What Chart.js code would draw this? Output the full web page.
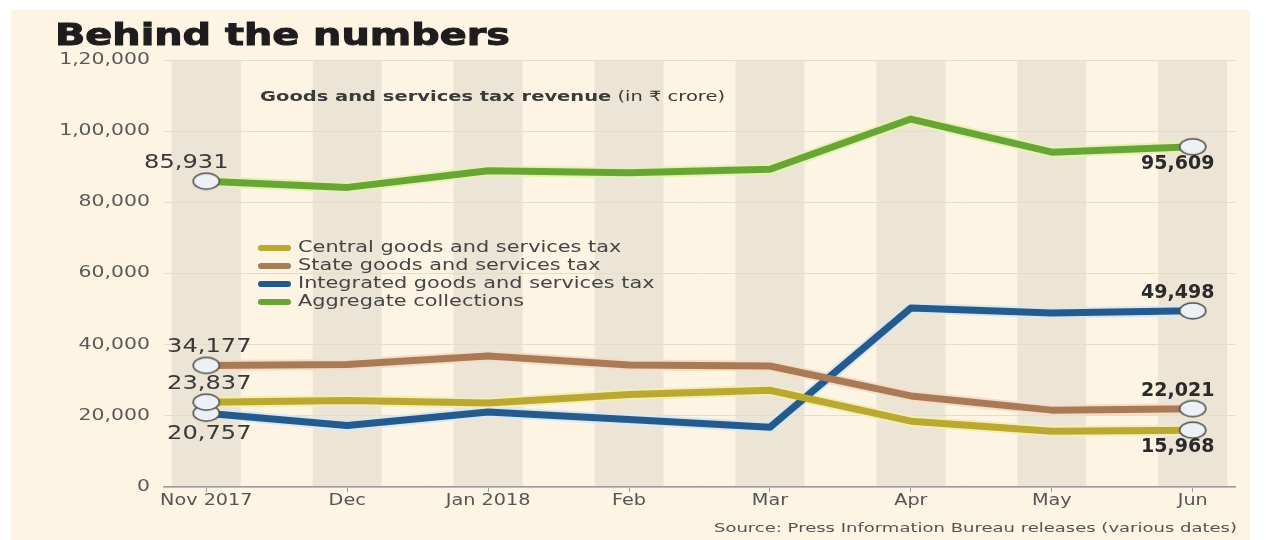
<!DOCTYPE html>
<html>
<head>
<meta charset="utf-8">
<title>Behind the numbers</title>
<script src="https://cdn.jsdelivr.net/npm/chart.js@4.4.0/dist/chart.umd.min.js"></script>
<style>
html, body { margin: 0; padding: 0; background: #fff; }
#wrap { position: relative; width: 1266px; height: 540px; overflow: hidden; }
#paper { position: absolute; left: 11px; top: 10px; width: 1239px; height: 530px; background: #fdf4e3; }
canvas { position: absolute; left: 0; top: 0; }
.txt { position: absolute; white-space: nowrap; font-family: "DejaVu Sans", sans-serif; line-height: 1; transform-origin: left center; }
#title { left: 55px; top: 19px; font-size: 31px; font-weight: bold; color: #1e1c1c; -webkit-text-stroke: 1px #1e1c1c; }
#subtitle { left: 260px; top: 89px; font-size: 14px; color: #3a3a3a; }
#source { left: 714px; top: 521px; font-size: 13px; color: #555; }
</style>
</head>
<body>
<div id="wrap">
  <div id="paper"></div>
  <canvas id="gstChart" width="1266" height="540"></canvas>
  <div class="txt" id="title" data-w="455">Behind the numbers</div>
  <div class="txt" id="subtitle" data-w="465"><b>Goods and services tax revenue</b> (in ₹ crore)</div>
  <div class="txt" id="source" data-w="523">Source: Press Information Bureau releases (various dates)</div>
</div>
<script>
// data (₹ crore)
const months = ['Nov 2017', 'Dec', 'Jan 2018', 'Feb', 'Mar', 'Apr', 'May', 'Jun'];
const centralGST = [23837, 24300, 23600, 26000, 27200, 18500, 15700, 15968];
const stateGST = [34177, 34400, 36800, 34300, 34000, 25600, 21600, 22021];
const integratedGST = [20757, 17300, 21100, 19000, 16800, 50300, 48900, 49498];
const aggregateGST = [85931, 84200, 88900, 88300, 89300, 103400, 94100, 95609];
const yTickValues = [0, 20000, 40000, 60000, 80000, 100000, 120000];
const yTickLabels = ['0', '20,000', '40,000', '60,000', '80,000', '1,00,000', '1,20,000'];

// stretch the html headings to the widths of the original
document.querySelectorAll('.txt').forEach(el => {
    const w = el.getBoundingClientRect().width;
    el.style.transform = 'scaleX(' + (Number(el.dataset.w) / w) + ')';
});

function wideText(ctx, str, x, y, font, color, align, sx) {
    ctx.save();
    ctx.font = font;
    ctx.fillStyle = color;
    ctx.textBaseline = 'middle';
    ctx.textAlign = 'left';
    const w = ctx.measureText(str).width * sx;
    const left = align === 'center' ? x - w / 2 : (align === 'right' ? x - w : x);
    ctx.translate(left, y);
    ctx.scale(sx, 1);
    ctx.fillText(str, 0, 0);
    ctx.restore();
}

// oval end marker
const marker = document.createElement('canvas');
marker.width = 30;
marker.height = 20;
(function () {
    const g = marker.getContext('2d');
    g.beginPath();
    g.ellipse(15, 10, 13, 8, 0, 0, Math.PI * 2);
    g.fillStyle = '#edf0f5';
    g.fill();
    g.lineWidth = 1.6;
    g.strokeStyle = '#4d4d4d';
    g.stroke();
})();

const FONT = '"DejaVu Sans", sans-serif';
const isEnd = c => c.dataIndex === 0 || c.dataIndex === months.length - 1;
const toXY = arr => arr.map((v, i) => ({ x: i, y: v }));

// sides: where the first / last value sits; dx: shift of the first value
const series = [
    { label: 'Central goods and services tax', data: centralGST, color: '#bba832', glow: '#f3eeb6', sides: ['above', 'below'], dx: 3 },
    { label: 'State goods and services tax', data: stateGST, color: '#a97a56', glow: '#f4dcc8', sides: ['above', 'above'], dx: 3 },
    { label: 'Integrated goods and services tax', data: integratedGST, color: '#265a8b', glow: '#d6e7f5', sides: ['below', 'above'], dx: 3 },
    { label: 'Aggregate collections', data: aggregateGST, color: '#69a536', glow: '#e4f3b4', sides: ['above', 'below'], dx: -20 }
];

const datasets = series.map(s => ({
    label: s.label,
    data: toXY(s.data),
    borderColor: s.color,
    backgroundColor: s.color,
    borderWidth: 7,
    tension: 0,
    borderJoinStyle: 'round',
    borderCapStyle: 'round',
    pointStyle: c => isEnd(c) ? marker : false,
    pointRadius: c => isEnd(c) ? 8 : 0,
    order: 0,
    sides: s.sides,
    dx: s.dx
})).concat(series.map(s => ({
    label: '',
    data: toXY(s.data),
    borderColor: s.glow,
    borderWidth: 11,
    tension: 0,
    borderJoinStyle: 'round',
    pointRadius: 0,
    order: 1,
    isGlow: true
})));

// shaded month columns
const bandsPlugin = {
    id: 'bands',
    beforeDraw(chart) {
        const { ctx, chartArea, scales } = chart;
        ctx.save();
        ctx.fillStyle = '#ece5d6';
        months.forEach((m, i) => {
            const l = scales.x.getPixelForValue(i - 0.245);
            const r = scales.x.getPixelForValue(i + 0.245);
            ctx.fillRect(l, chartArea.top, r - l, chartArea.bottom - chartArea.top);
        });
        ctx.restore();
    }
};

// tick labels, legend and end values
const labelsPlugin = {
    id: 'labels',
    afterDraw(chart) {
        const { ctx, scales } = chart;
        yTickValues.forEach((v, i) => {
            wideText(ctx, yTickLabels[i], 150, scales.y.getPixelForValue(v), '15px ' + FONT, '#5a5a5a', 'right', 1.36);
        });
        months.forEach((m, i) => {
            wideText(ctx, m, scales.x.getPixelForValue(i), 501, '15px ' + FONT, '#555', 'center', 1.28);
        });

        const main = chart.data.datasets.filter(d => !d.isGlow);
        main.forEach((ds, k) => {
            const y = 248 + k * 18;
            ctx.save();
            ctx.strokeStyle = ds.borderColor;
            ctx.lineWidth = 6;
            ctx.lineCap = 'round';
            ctx.beginPath();
            ctx.moveTo(261, y);
            ctx.lineTo(288, y);
            ctx.stroke();
            ctx.restore();
            wideText(ctx, ds.label, 298, y, '15px ' + FONT, '#454545', 'left', 1.39);
        });

        main.forEach(ds => {
            const meta = chart.getDatasetMeta(chart.data.datasets.indexOf(ds));
            const first = meta.data[0];
            const last = meta.data[meta.data.length - 1];
            const v0 = ds.data[0].y.toLocaleString('en-US');
            const v1 = ds.data[ds.data.length - 1].y.toLocaleString('en-US');
            const y0 = ds.sides[0] === 'above' ? first.y - 18 : first.y + 21;
            const y1 = ds.sides[1] === 'above' ? last.y - 18 : last.y + 17;
            wideText(ctx, v0, first.x + ds.dx, y0, '19px ' + FONT, '#383838', 'center', 1.27);
            wideText(ctx, v1, last.x - 15, y1, 'bold 19px ' + FONT, '#2a2a2a', 'center', 1.0);
        });
    }
};

const ctx = document.getElementById('gstChart').getContext('2d');
new Chart(ctx, {
    type: 'line',
    data: { datasets: datasets },
    plugins: [bandsPlugin, labelsPlugin],
    options: {
        responsive: false,
        animation: false,
        events: [],
        layout: { padding: { top: 60, right: 31, bottom: 0, left: 0 } },
        scales: {
            x: {
                type: 'linear',
                min: -0.3,
                max: 7.3,
                afterBuildTicks: scale => { scale.ticks = months.map((m, i) => ({ value: i })); },
                afterFit: scale => { scale.height = 53; },
                ticks: { display: false },
                grid: { drawOnChartArea: false, drawTicks: true, tickLength: 5, tickColor: '#9b9b9b' },
                border: { display: true, color: '#9b9b9b', width: 1.5 }
            },
            y: {
                min: 0,
                max: 120000,
                afterBuildTicks: scale => { scale.ticks = yTickValues.map(v => ({ value: v })); },
                afterFit: scale => { scale.width = 164; },
                ticks: { display: false },
                grid: { color: '#e6dcca', lineWidth: 1, drawTicks: false },
                border: { display: false }
            }
        },
        plugins: {
            legend: { display: false },
            tooltip: { enabled: false }
        }
    }
});
</script>
</body>
</html>
